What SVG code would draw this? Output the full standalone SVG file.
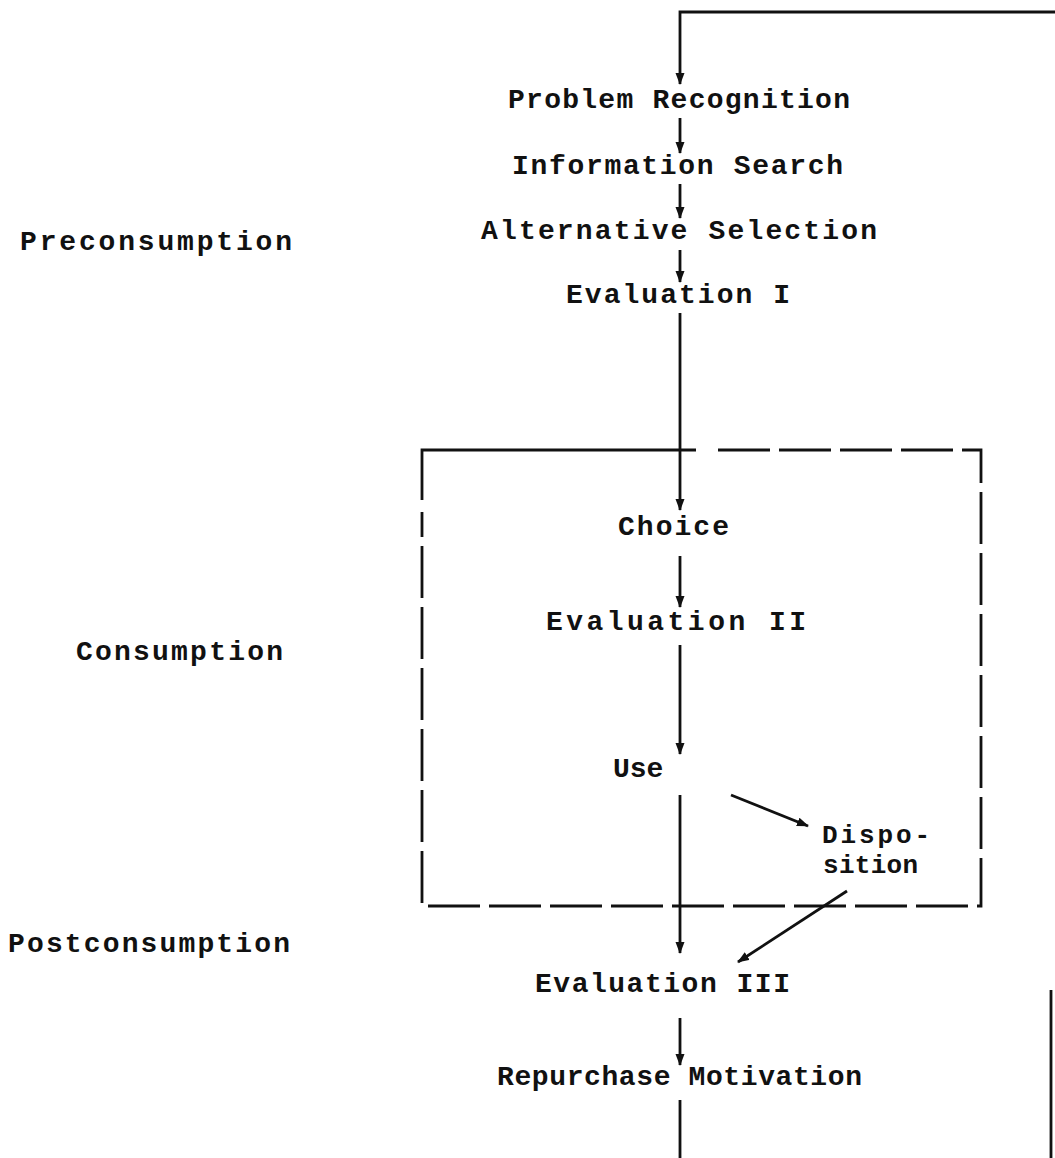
<svg xmlns="http://www.w3.org/2000/svg" width="1055" height="1158" viewBox="0 0 1055 1158">
<style>
text{font-family:"Liberation Mono","DejaVu Sans Mono",monospace;font-size:28px;font-weight:bold;fill:#111}
.sm{font-size:26px}
.ln{stroke:#111;stroke-width:2.8;fill:none}
.dash{stroke:#111;stroke-width:2.8;fill:none;stroke-dasharray:52 9}
</style>
<defs>
<marker id="ah" viewBox="0 0 12 10" refX="11" refY="5" markerWidth="12" markerHeight="10" markerUnits="userSpaceOnUse" orient="auto">
<path d="M0,0.5 L12,5 L0,9.5 Z" fill="#111"/>
</marker>
</defs>
<rect width="1055" height="1158" fill="#fff"/>
<g id="stage-labels">
<text id="preconsumption" x="20" y="250" textLength="272" lengthAdjust="spacing">Preconsumption</text>
<text id="consumption" x="76" y="660" textLength="207" lengthAdjust="spacing">Consumption</text>
<text id="postconsumption" x="8" y="952" textLength="282" lengthAdjust="spacing">Postconsumption</text>
</g>
<g id="consumption-box">
<path class="ln" d="M422,500 V450 H696"/>
<path class="dash" d="M718,450 H981 V906 H422 V512"/>
</g>
<g id="connectors">
<path class="ln" d="M1055,12 H680 V84" marker-end="url(#ah)"/>
<path class="ln" d="M680,118 V153" marker-end="url(#ah)"/>
<path class="ln" d="M680,184 V218" marker-end="url(#ah)"/>
<path class="ln" d="M680,250 V282" marker-end="url(#ah)"/>
<path class="ln" d="M680,313 V510" marker-end="url(#ah)"/>
<path class="ln" d="M680,556 V607" marker-end="url(#ah)"/>
<path class="ln" d="M680,645 V754" marker-end="url(#ah)"/>
<path class="ln" d="M680,795 V953" marker-end="url(#ah)"/>
<path class="ln" d="M731,795 L808,826" marker-end="url(#ah)"/>
<path class="ln" d="M847,891 L738,962" marker-end="url(#ah)"/>
<path class="ln" d="M680,1018 V1065" marker-end="url(#ah)"/>
<path class="ln" d="M680,1100 V1158"/>
<path class="ln" d="M1051,990 V1158"/>
</g>
<g id="node-problem-recognition"><text x="508" y="108" textLength="342" lengthAdjust="spacing">Problem Recognition</text></g>
<g id="node-information-search"><text x="512" y="174" textLength="331" lengthAdjust="spacing">Information Search</text></g>
<g id="node-alternative-selection"><text x="481" y="239" textLength="396" lengthAdjust="spacing">Alternative Selection</text></g>
<g id="node-evaluation-1"><text x="566" y="303" textLength="224" lengthAdjust="spacing">Evaluation I</text></g>
<g id="node-choice"><text x="618" y="535" textLength="111" lengthAdjust="spacing">Choice</text></g>
<g id="node-evaluation-2"><text x="546" y="630" textLength="260" lengthAdjust="spacing">Evaluation II</text></g>
<g id="node-use"><text x="613" y="777">Use</text></g>
<g id="node-disposition"><text class="sm" x="822" y="843" textLength="108" lengthAdjust="spacing">Dispo-</text><text class="sm" x="823" y="873" textLength="95" lengthAdjust="spacing">sition</text></g>
<g id="node-evaluation-3"><text x="535" y="992" textLength="255" lengthAdjust="spacing">Evaluation III</text></g>
<g id="node-repurchase-motivation"><text x="497" y="1085" textLength="365" lengthAdjust="spacing">Repurchase Motivation</text></g>
</svg>
